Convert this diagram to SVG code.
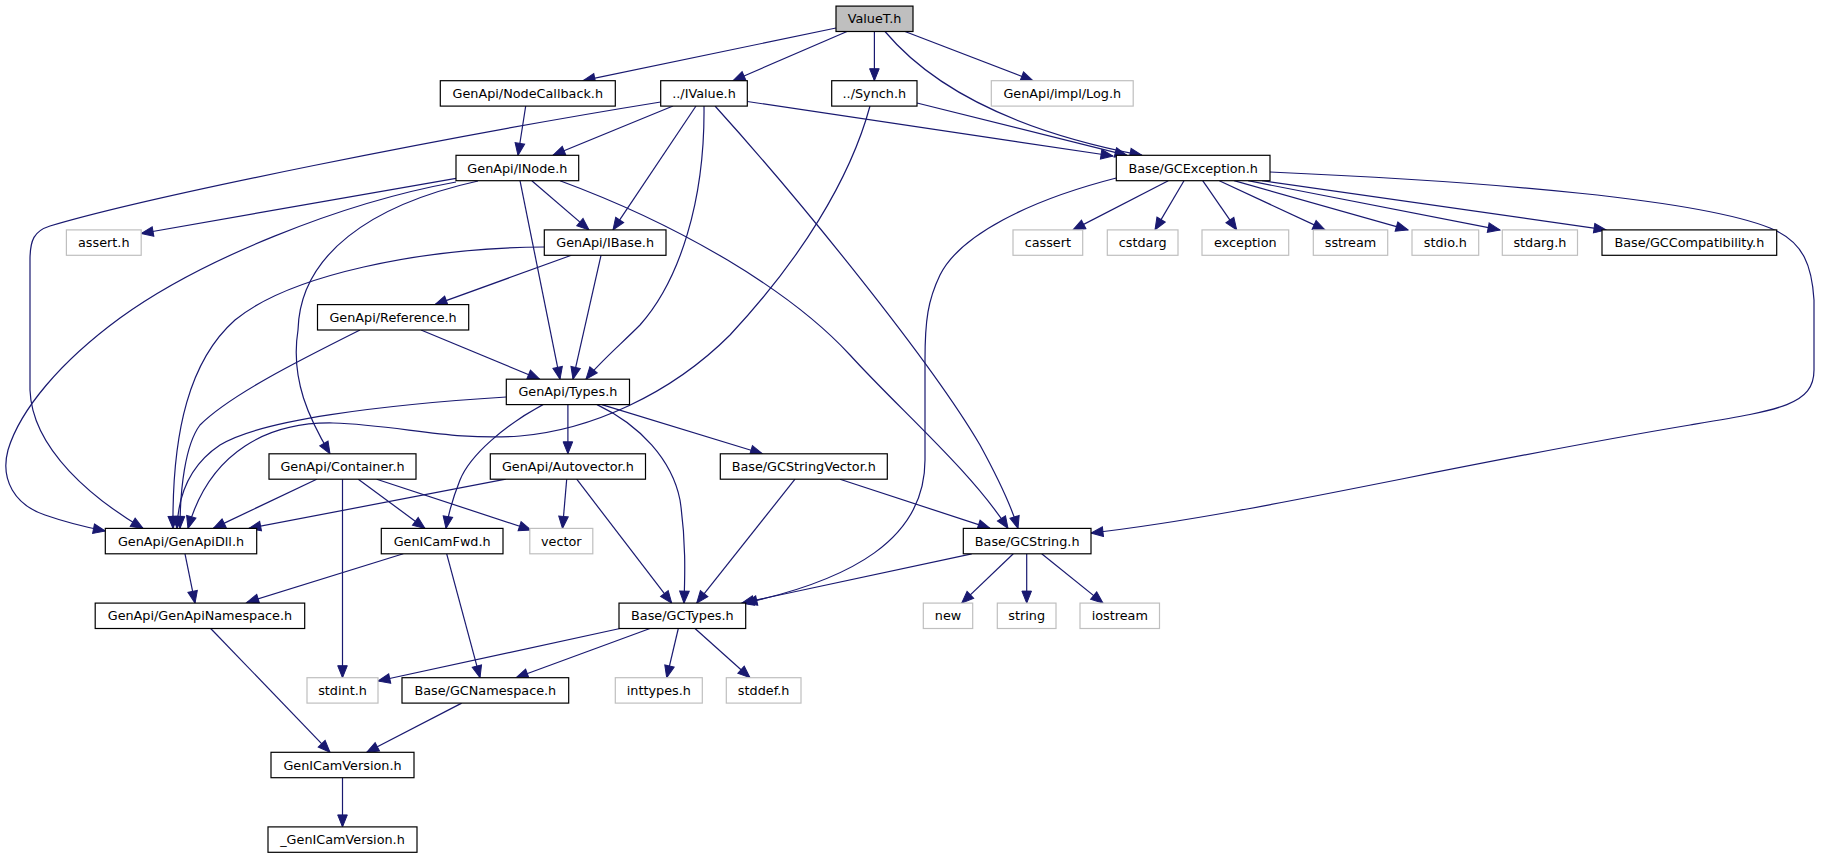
<svg xmlns="http://www.w3.org/2000/svg" width="1821" height="859" viewBox="0 0 1821 859">
<style>
.n rect{fill:#ffffff;stroke:#000000;stroke-width:1.2}
.g rect{fill:#ffffff;stroke:#bfbfbf;stroke-width:1.2}
.root rect{fill:#bfbfbf;stroke:#000000;stroke-width:1.2}
text{font-family:"DejaVu Sans","Liberation Sans",sans-serif;font-size:12.8px;text-anchor:middle;fill:#000000}
#edges path{fill:none;stroke:#191970;stroke-width:1.2;marker-end:url(#a)}
</style>
<defs>
<marker id="a" markerUnits="userSpaceOnUse" markerWidth="14" markerHeight="11" refX="12" refY="4.8" orient="auto" overflow="visible">
<path d="M0,0 L12,4.8 L0,9.6 z" fill="#191970" stroke="#191970" stroke-width="1"/>
</marker>
</defs>
<rect x="0" y="0" width="1821" height="859" fill="#ffffff"/>
<g id="edges">
<path d="M836,28 L583,80.7"/>
<path d="M847,31.5 L733,80.7"/>
<path d="M874.4,31.5 L874.4,80.7"/>
<path d="M905,31.5 L1033,80.7"/>
<path d="M885,31.5 C930,85 1010,130 1142,155.3"/>
<path d="M525.7,106 L518,155.3"/>
<path d="M673,106 L553,155.3"/>
<path d="M696,106 L613,229.9"/>
<path d="M704,106 C705,200 680,280 640,325 C620,345 600,362 586,379.2"/>
<path d="M715,106 C800,200 930,360 980,445 C998,478 1011,505 1018,528.4"/>
<path d="M660.7,102 C450,136 150,196 50,226 C34,231 30,240 30,260 L30,390 C32,450 95,500 143,528.4"/>
<path d="M747.3,101.5 L1113,156"/>
<path d="M917,103 L1127,155.3"/>
<path d="M870,106 C850,180 800,260 730,335 C670,395 590,430 520,436 C450,441 400,425 333,423 C270,422 210,450 188,528.4"/>
<path d="M456,178.3 L141.2,233.5"/>
<path d="M456,182 C340,203 200,260 120,318 C60,362 20,410 8,450 C0,480 15,505 45,515 C65,522 85,527 105.3,531"/>
<path d="M478,181 C370,205 300,255 298,330 C290,380 310,420 330,453.8"/>
<path d="M531.8,180.7 L589,229.9"/>
<path d="M520,180.7 L560,379.2"/>
<path d="M560,180.7 C680,225 790,290 850,355 C900,410 970,470 1008,528.4"/>
<path d="M571.4,255.3 L435,304.6"/>
<path d="M601,255.3 L573,379.2"/>
<path d="M544.3,247 C420,248 290,275 235,320 C190,360 172,430 173,528.4"/>
<path d="M421,330 L539.7,379.2"/>
<path d="M360,330 C300,360 230,395 200,425 C185,445 180,490 180,528.4"/>
<path d="M506.3,397 C380,405 260,420 220,445 C190,465 178,495 177,528.4"/>
<path d="M567.9,404.6 L567.9,453.8"/>
<path d="M543,404.6 C505,425 470,455 460,480 C454,495 449,510 446,528.4"/>
<path d="M597,404.6 C640,425 672,460 680,500 C686,540 685,575 684,603.1"/>
<path d="M601.8,404.6 L762.5,453.8"/>
<path d="M316.7,479.2 L213.3,528.4"/>
<path d="M358.3,479.2 L425,528.4"/>
<path d="M376.7,479.2 L531,530"/>
<path d="M342.5,479.2 L342.5,677.7"/>
<path d="M505.8,479.2 L248.8,528.4"/>
<path d="M566.7,479.2 L562.5,528.4"/>
<path d="M576.7,479.2 L671.7,603.1"/>
<path d="M795,479.2 L696.7,603.1"/>
<path d="M840,479.2 L990,528.4"/>
<path d="M185,553.8 L195,603.1"/>
<path d="M403.3,553.8 L246.7,602.5"/>
<path d="M446.7,553.8 L480,677.7"/>
<path d="M210.7,628.5 L330,752.3"/>
<path d="M461.7,703.1 L366.7,752.3"/>
<path d="M342.5,777.7 L342.5,826.9"/>
<path d="M620,628.5 L378,681"/>
<path d="M650,628.5 L516,677.7"/>
<path d="M678.3,628.5 L666.7,677.7"/>
<path d="M695,628.5 L750,677.7"/>
<path d="M971.7,553.8 L741.7,603.1"/>
<path d="M1013.3,553.8 L961.7,603.1"/>
<path d="M1026.7,553.8 L1026.7,603.1"/>
<path d="M1041.7,553.8 L1103,603.1"/>
<path d="M1168.3,180.7 L1073,229.9"/>
<path d="M1184,180.7 L1155,229.9"/>
<path d="M1202.7,180.7 L1236.7,229.9"/>
<path d="M1219.3,180.7 L1325,229.9"/>
<path d="M1234,180.7 L1408,229.9"/>
<path d="M1248,180.7 L1500,229.9"/>
<path d="M1262,180.7 L1606,229.9"/>
<path d="M1116.3,178 C1030,200 960,235 940,275 C928,300 925,320 925,360 L925,460 C925,540 850,580 745,603.1"/>
<path d="M1270,172 C1500,182 1700,200 1770,228 C1805,242 1812,268 1814,300 L1814,370 C1814,405 1780,410 1690,425 C1450,465 1250,515 1091,533"/>
</g>
<g id="n_ValueT" class="root"><rect x="836" y="6.1" width="77" height="25.4"/><text x="874.5" y="23.3">ValueT.h</text></g>
<g id="n_NodeCallback" class="n"><rect x="440.3" y="80.7" width="175" height="25.4"/><text x="527.8" y="97.9">GenApi/NodeCallback.h</text></g>
<g id="n_IValue" class="n"><rect x="660.7" y="80.7" width="86.6" height="25.4"/><text x="704" y="97.9">../IValue.h</text></g>
<g id="n_Synch" class="n"><rect x="831.7" y="80.7" width="85.3" height="25.4"/><text x="874.35" y="97.9">../Synch.h</text></g>
<g id="n_Log" class="g"><rect x="991.3" y="80.7" width="141.9" height="25.4"/><text x="1062.25" y="97.9">GenApi/impl/Log.h</text></g>
<g id="n_INode" class="n"><rect x="456" y="155.3" width="122.7" height="25.4"/><text x="517.35" y="172.5">GenApi/INode.h</text></g>
<g id="n_GCException" class="n"><rect x="1116.3" y="155.3" width="153.7" height="25.4"/><text x="1193.15" y="172.5">Base/GCException.h</text></g>
<g id="n_assert" class="g"><rect x="66.4" y="229.9" width="74.8" height="25.4"/><text x="103.8" y="247.1">assert.h</text></g>
<g id="n_IBase" class="n"><rect x="544.3" y="229.9" width="121.7" height="25.4"/><text x="605.15" y="247.1">GenApi/IBase.h</text></g>
<g id="n_cassert" class="g"><rect x="1013" y="229.9" width="69.7" height="25.4"/><text x="1047.85" y="247.1">cassert</text></g>
<g id="n_cstdarg" class="g"><rect x="1107.3" y="229.9" width="70.7" height="25.4"/><text x="1142.65" y="247.1">cstdarg</text></g>
<g id="n_exception" class="g"><rect x="1202" y="229.9" width="86.7" height="25.4"/><text x="1245.35" y="247.1">exception</text></g>
<g id="n_sstream" class="g"><rect x="1313.3" y="229.9" width="74.4" height="25.4"/><text x="1350.5" y="247.1">sstream</text></g>
<g id="n_stdio" class="g"><rect x="1412" y="229.9" width="66.7" height="25.4"/><text x="1445.35" y="247.1">stdio.h</text></g>
<g id="n_stdarg" class="g"><rect x="1502.3" y="229.9" width="75.2" height="25.4"/><text x="1539.9" y="247.1">stdarg.h</text></g>
<g id="n_GCCompatibility" class="n"><rect x="1602" y="229.9" width="174.7" height="25.4"/><text x="1689.35" y="247.1">Base/GCCompatibility.h</text></g>
<g id="n_Reference" class="n"><rect x="317.5" y="304.6" width="151.2" height="25.4"/><text x="393.1" y="321.8">GenApi/Reference.h</text></g>
<g id="n_Types" class="n"><rect x="506.3" y="379.2" width="123.2" height="25.4"/><text x="567.9" y="396.4">GenApi/Types.h</text></g>
<g id="n_Container" class="n"><rect x="269" y="453.8" width="147" height="25.4"/><text x="342.5" y="471">GenApi/Container.h</text></g>
<g id="n_Autovector" class="n"><rect x="490.3" y="453.8" width="155.2" height="25.4"/><text x="567.9" y="471">GenApi/Autovector.h</text></g>
<g id="n_GCStringVector" class="n"><rect x="720.3" y="453.8" width="167" height="25.4"/><text x="803.8" y="471">Base/GCStringVector.h</text></g>
<g id="n_GenApiDll" class="n"><rect x="105.3" y="528.4" width="151.4" height="25.4"/><text x="181" y="545.6">GenApi/GenApiDll.h</text></g>
<g id="n_GenICamFwd" class="n"><rect x="381.3" y="528.4" width="121.7" height="25.4"/><text x="442.15" y="545.6">GenICamFwd.h</text></g>
<g id="n_vector" class="g"><rect x="529.8" y="528.4" width="63" height="25.4"/><text x="561.3" y="545.6">vector</text></g>
<g id="n_GCString" class="n"><rect x="963.3" y="528.4" width="127.7" height="25.4"/><text x="1027.15" y="545.6">Base/GCString.h</text></g>
<g id="n_GenApiNamespace" class="n"><rect x="95.2" y="603.1" width="209.5" height="25.4"/><text x="199.95" y="620.3">GenApi/GenApiNamespace.h</text></g>
<g id="n_GCTypes" class="n"><rect x="619" y="603.1" width="126.7" height="25.4"/><text x="682.35" y="620.3">Base/GCTypes.h</text></g>
<g id="n_new" class="g"><rect x="923.3" y="603.1" width="49.4" height="25.4"/><text x="948" y="620.3">new</text></g>
<g id="n_string" class="g"><rect x="997.3" y="603.1" width="58.7" height="25.4"/><text x="1026.65" y="620.3">string</text></g>
<g id="n_iostream" class="g"><rect x="1080" y="603.1" width="79.5" height="25.4"/><text x="1119.75" y="620.3">iostream</text></g>
<g id="n_stdint" class="g"><rect x="307" y="677.7" width="71" height="25.4"/><text x="342.5" y="694.9">stdint.h</text></g>
<g id="n_GCNamespace" class="n"><rect x="402" y="677.7" width="166.7" height="25.4"/><text x="485.35" y="694.9">Base/GCNamespace.h</text></g>
<g id="n_inttypes" class="g"><rect x="615.3" y="677.7" width="87" height="25.4"/><text x="658.8" y="694.9">inttypes.h</text></g>
<g id="n_stddef" class="g"><rect x="726.3" y="677.7" width="74.7" height="25.4"/><text x="763.65" y="694.9">stddef.h</text></g>
<g id="n_GenICamVersion" class="n"><rect x="271" y="752.3" width="143" height="25.4"/><text x="342.5" y="769.5">GenICamVersion.h</text></g>
<g id="n__GenICamVersion" class="n"><rect x="268" y="826.9" width="149" height="25.4"/><text x="342.5" y="844.1">_GenICamVersion.h</text></g>
</svg>
